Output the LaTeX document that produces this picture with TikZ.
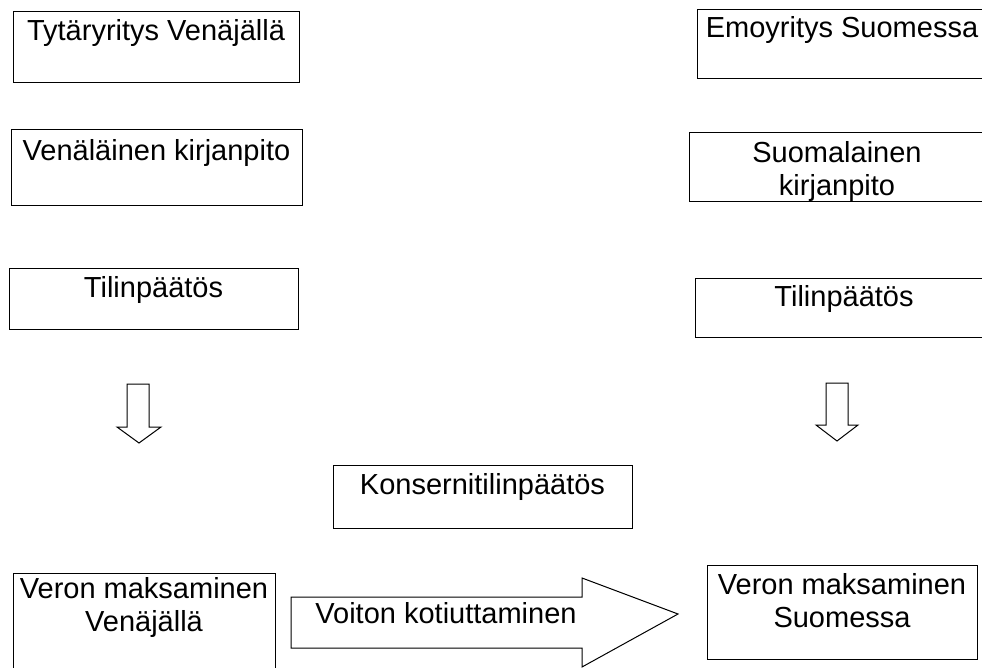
\documentclass[tikz,border=0pt]{standalone}
\usepackage{fontspec}
\setmainfont{Liberation Sans}
\usetikzlibrary{calc}
\tikzset{
  boxshape/.style={draw=black, line width=1pt, rectangle, inner sep=0pt, fill=white},
  lbl/.style={font=\fontsize{29}{33}\selectfont, inner sep=0pt, align=center, anchor=base},
  blockarrow/.style={draw=black, line width=1pt, fill=white, line join=miter},
}
\begin{document}
\begin{tikzpicture}[x=1pt, y=-1pt]
\useasboundingbox (0,0) rectangle (982,668);
\clip (0,0) rectangle (982,668);
% boxes
\node[boxshape, minimum width=286pt, minimum height=71pt] (b1) at (156,47.5) {};
\node[boxshape, minimum width=290pt, minimum height=69pt] (b2) at (842,44.5) {};
\node[boxshape, minimum width=291pt, minimum height=76pt] (b3) at (156.5,168) {};
\node[boxshape, minimum width=289pt, minimum height=60pt] (b4) at (153.5,299) {};
\node[boxshape, minimum width=296pt, minimum height=69pt] (b5) at (837,167.5) {};
\node[boxshape, minimum width=298pt, minimum height=58pt] (b6) at (844,308) {};
\node[boxshape, minimum width=299pt, minimum height=63pt] (b7) at (482.5,496.5) {};
\node[boxshape, minimum width=262pt, minimum height=107pt] (b8) at (144,626.5) {};
\node[boxshape, minimum width=270pt, minimum height=94pt] (b9) at (842,612) {};
% texts (multi-line: base anchor is the last line's baseline)
\node[lbl] (t1) at ($(b1.north)+(0,29)$) {Tytäryritys Venäjällä};
\node[lbl] (t2) at ($(b2.north)+(0,28)$) {Emoyritys Suomessa};
\node[lbl] (t3) at ($(b3.north)+(0,31)$) {Venäläinen kirjanpito};
\node[lbl] (t4) at ($(b4.north)+(0,29)$) {Tilinpäätös};
\node[lbl] (t5) at ($(b5.north)+(0,63)$) {Suomalainen\\kirjanpito};
\node[lbl] (t6) at ($(b6.north)+(0,28)$) {Tilinpäätös};
\node[lbl] (t7) at ($(b7.north)+(0,30)$) {Konsernitilinpäätös};
\node[lbl] (t8) at ($(b8.north)+(0,59)$) {Veron maksaminen\\Venäjällä};
\node[lbl] (t9) at ($(b9.north)+(0,63)$) {Veron maksaminen\\Suomessa};
% block arrows
\draw[blockarrow] (127,384) -- (149,384) -- (149,427) -- (161,427) -- (139,443) -- (117,427) -- (127,427) -- cycle;
\draw[blockarrow] (826,383) -- (848,383) -- (848,425) -- (858,425) -- (837,441) -- (816,425) -- (826,425) -- cycle;
\draw[blockarrow] (291,597) -- (582,597) -- (582,578) -- (678,614) -- (582,667) -- (582,648) -- (291,648) -- cycle;
\node[lbl] (ta) at (446,623) {Voiton kotiuttaminen};
\end{tikzpicture}
\end{document}
